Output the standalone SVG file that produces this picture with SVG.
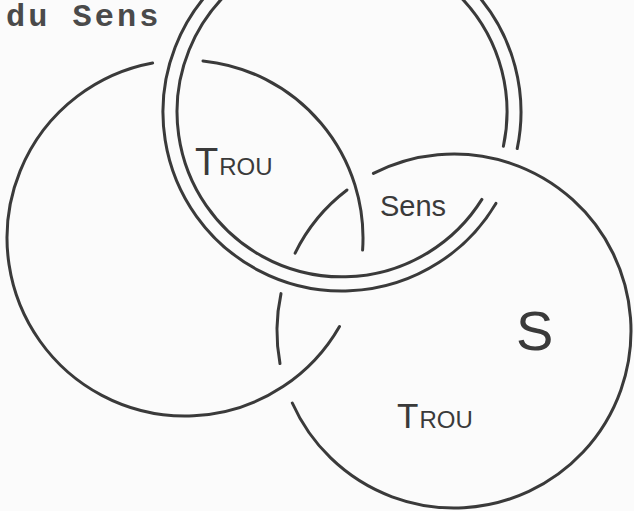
<svg xmlns="http://www.w3.org/2000/svg" width="634" height="511" viewBox="0 0 634 511">
  <style>
    .ring { fill: none; stroke: #3a3a3a; stroke-width: 3; stroke-linecap: round; }
    .hand { font-family: "Liberation Sans", Arial, sans-serif; fill: #3a3a3a; }
    .typedark { font-family: "Liberation Mono", "Courier New", monospace; font-size: 32px; font-weight: bold; fill: #4a4a4a; letter-spacing: 3px; }
  </style>
  <rect x="0" y="0" width="634" height="511" fill="#fbfbfb"/>

  <g id="background-text">
    <text class="typedark" x="6" y="26">du Sens</text>
  </g>

  <g id="ring-top">
    <path class="ring" d="M 495.9 203.4 A 179 179 0 1 1 517.2 148.6"/>
    <path class="ring" d="M 481.9 199.4 A 165 165 0 1 1 503.4 146.3"/>
  </g>

  <g id="ring-left">
    <path class="ring" d="M 203 60.9 A 178 178 0 0 1 362.6 250.1"/>
    <path class="ring" d="M 339.5 326.5 A 178 178 0 1 1 152.6 63"/>
  </g>

  <g id="ring-right">
    <path class="ring" d="M 373.4 173.4 A 177 177 0 1 1 292.3 403"/>
    <path class="ring" d="M 280 363.6 A 177 177 0 0 1 281 293.6"/>
    <path class="ring" d="M 295.1 253.1 A 177 177 0 0 1 347 190"/>
  </g>

  <g id="connectors"></g>

  <g id="label-trou-1">
    <text class="hand" x="195" y="175" font-size="38">T<tspan font-size="24" dx="1">ROU</tspan></text>
  </g>
  <g id="label-sens">
    <text class="hand" x="380" y="216" font-size="29">Sens</text>
  </g>
  <g id="label-s">
    <text class="hand" x="516" y="350" font-size="56">S</text>
  </g>
  <g id="label-trou-2">
    <text class="hand" x="397" y="428" font-size="35">T<tspan font-size="24" dx="1">ROU</tspan></text>
  </g>
</svg>
